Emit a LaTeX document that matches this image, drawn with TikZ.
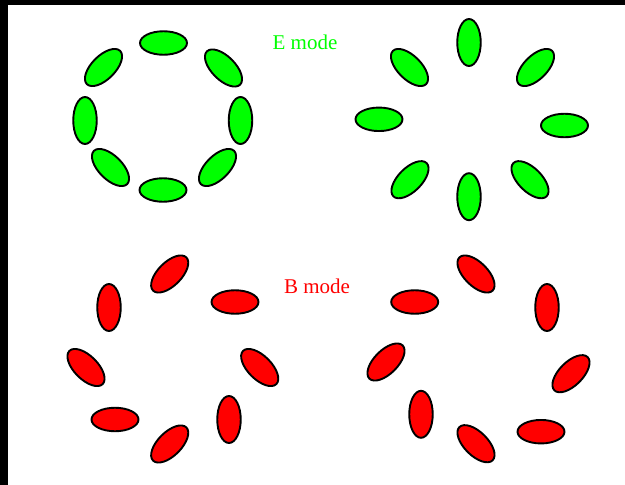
\documentclass[tikz,border=0pt]{standalone}
\usepackage{fontspec}
\setmainfont{Liberation Serif}
\usetikzlibrary{shapes.geometric}

\definecolor{egreen}{RGB}{0,255,0}
\definecolor{bred}{RGB}{255,0,0}

\tikzset{
  stick/.style={ellipse, draw=black, line width=1.9, inner sep=0,
    minimum width=47, minimum height=23.5},
  modelabel/.style={inner sep=0, font=\fontsize{21}{24}\selectfont},
}

\begin{document}
\begin{tikzpicture}[x=1pt, y=-1pt]

  % frame: black edge on the top and left
  \useasboundingbox (0,0) rectangle (625,485);
  \fill[black] (0,0) rectangle (625,485);
  \fill[white] (8,5) rectangle (625,485);

  % E mode, tangential ring
  \foreach \x/\y/\a/\n in
    {
        163.5/43/0/1, 223.5/68/-45/2, 240.5/120.5/90/3, 217.5/167.5/45/4,
        163/190/0/5, 110.5/167.5/-45/6, 85/120.5/90/7, 103.5/67.5/45/8
    }
    {
        \node[stick, fill=egreen, rotate=\a] (et\n) at (\x,\y) {};
    }

  % E mode, radial ring
  \foreach \x/\y/\a/\n in
    {
        469/42.5/90/1, 535.5/67.5/45/2, 564.5/125.5/0/3, 530/179.7/-45/4,
        469/196.7/90/5, 410/179.7/45/6, 379/119.3/0/7, 409.5/67.5/-45/8
    }
    {
        \node[stick, fill=egreen, rotate=\a] (er\n) at (\x,\y) {};
    }

  % B mode, left swirl
  \foreach \x/\y/\a/\n in
    {
        169.7/274/45/1, 235/302/0/2, 259.7/367.5/-45/3, 229/419.5/90/4,
        169.7/444/45/5, 115/419.5/0/6, 86/367.5/-45/7, 109/307.5/90/8
    }
    {
        \node[stick, fill=bred, rotate=\a] (bl\n) at (\x,\y) {};
    }

  % B mode, right swirl
  \foreach \x/\y/\a/\n in
    {
        476/274/-45/1, 547/307.5/90/2, 571/373.7/45/3, 541/431.7/0/4,
        476/443.7/-45/5, 421/414.3/90/6, 386/362/45/7, 414.7/302/0/8
    }
    {
        \node[stick, fill=bred, rotate=\a] (br\n) at (\x,\y) {};
    }

  \node[modelabel, text=egreen] (elabel) at (305,42) {E mode};
  \node[modelabel, text=bred] (blabel) at (317,286) {B mode};

\end{tikzpicture}
\end{document}
